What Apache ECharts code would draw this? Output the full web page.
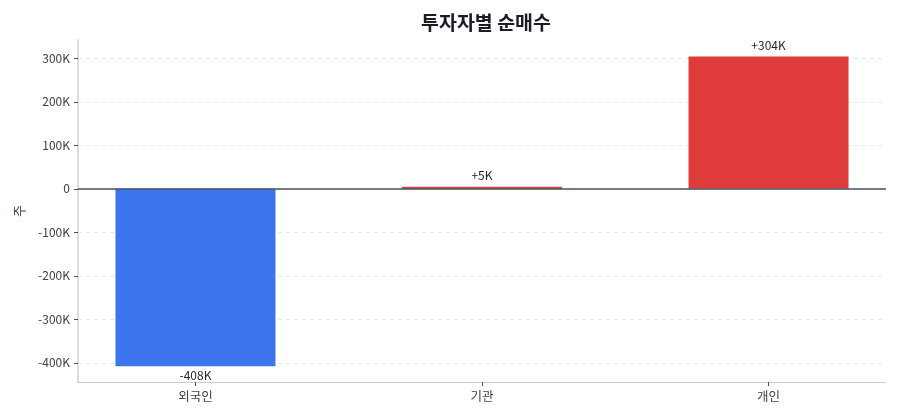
<!DOCTYPE html>
<html>
<head>
<meta charset="utf-8">
<script src="https://cdn.jsdelivr.net/npm/echarts@6/dist/echarts.min.js"></script>
<style>html,body{margin:0;padding:0;background:#fff}#c{width:900px;height:420px}</style>
</head>
<body>
<div id="c"></div>
<script>
var categories = ['외국인', '기관', '개인'];
var netBuy = [-408000, 5000, 304000];
var yTicks = [-400000, -300000, -200000, -100000, 0, 100000, 200000, 300000];
var catPos = [0, 1, 2];

var FONT = '"Noto Sans CJK KR", "Noto Sans", sans-serif';
var chart = echarts.init(document.getElementById('c'));
var data = netBuy.map(function (v, i) {
  return {
    value: [catPos[i], v],
    itemStyle: { color: v < 0 ? '#3b74ec' : '#df3b3b' },
    label: { position: v < 0 ? 'bottom' : 'top', distance: v < 0 ? 3 : 5 }
  };
});
chart.setOption({
  animation: false,
  textStyle: { fontFamily: FONT },
  title: {
    text: '투자자별 순매수', left: 481, top: 8, textAlign: 'center',
    textStyle: { fontFamily: FONT, fontSize: 19.5, fontWeight: 'bold', color: '#1a1d26' }
  },
  grid: { left: 78, right: 14, top: 40, bottom: 38, containLabel: false },
  xAxis: {
    type: 'value', min: -0.41, max: 2.41,
    axisLine: { show: true, onZero: false, lineStyle: { color: '#c9ccd8', width: 1 } },
    axisTick: { show: true, customValues: catPos, length: 4, lineStyle: { color: '#4a5060' } },
    axisLabel: {
      customValues: catPos, color: '#3a4150', fontSize: 12.5, fontFamily: FONT, margin: 8,
      formatter: function (v) { return categories[Math.round(v)]; }
    },
    splitLine: { show: false }
  },
  yAxis: {
    type: 'value', min: -444000, max: 342000, splitNumber: 8,
    name: '주', nameLocation: 'middle', nameGap: 52,
    nameTextStyle: { color: '#3a4150', fontSize: 13, fontFamily: FONT },
    axisLine: { show: true, onZero: false, lineStyle: { color: '#d8dce3', width: 2 } },
    axisTick: { show: true, customValues: yTicks, length: 4, lineStyle: { color: '#4a5060' } },
    axisLabel: {
      customValues: yTicks, color: '#3a4150', fontSize: 12, fontFamily: FONT, margin: 8,
      formatter: function (v) { return v === 0 ? '0' : (v / 1000) + 'K'; }
    },
    splitLine: { show: true,
      lineStyle: { type: [4, 4], color: '#e4e7ec', width: 1 } }
  },
  series: [{
    type: 'bar', barWidth: 160, data: data,
    label: {
      show: true, color: '#1f2330', fontSize: 12, fontFamily: FONT,
      formatter: function (p) {
        var v = p.value[1];
        return (v > 0 ? '+' : '') + Math.round(v / 1000) + 'K';
      }
    },
    markLine: {
      silent: true, symbol: 'none', label: { show: false },
      lineStyle: { color: '#4a5162', width: 1.5, type: 'solid' },
      data: [{ yAxis: 0 }]
    }
  }]
});
</script>
</body>
</html>
